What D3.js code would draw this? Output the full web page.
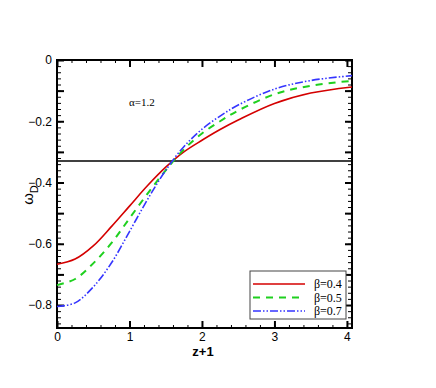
<!DOCTYPE html>
<html>
<head>
<meta charset="utf-8">
<style>
  html, body { margin: 0; padding: 0; background: #fff; }
  svg text { font-family: "Liberation Sans", Arial, sans-serif; }
  .axis .domain { display: none; }
  .axis line { stroke: #000; }
  .axis.major line { stroke-width: 2; }
  .axis text { font-size: 12px; fill: #000; }
  .serif { font-family: "Liberation Serif", "Times New Roman", serif !important; }
</style>
<script src="https://cdn.jsdelivr.net/npm/d3@7"></script>
</head>
<body>
<div id="main"></div>
<script>
  // z+1 sample points
  var zs = [0, 0.25, 0.5, 0.75, 1.0, 1.25, 1.5, 1.75, 2.0, 2.25, 2.5, 3.0, 3.5, 4.07];
  var w04 = [-0.667, -0.650, -0.607, -0.544, -0.477, -0.410, -0.350, -0.300, -0.262, -0.227, -0.196, -0.142, -0.108, -0.088];
  var w05 = [-0.735, -0.715, -0.664, -0.598, -0.517, -0.436, -0.360, -0.292, -0.240, -0.200, -0.165, -0.112, -0.084, -0.068];
  var w07 = [-0.805, -0.793, -0.741, -0.663, -0.560, -0.455, -0.360, -0.283, -0.226, -0.183, -0.147, -0.095, -0.067, -0.051];
  var hLine = -0.33;
  var seriesNames = ["\u03b2=0.4", "\u03b2=0.5", "\u03b2=0.7"];
  var xTicks = [0, 1, 2, 3, 4];
  var yTicks = [0, -0.2, -0.4, -0.6, -0.8];

  var width = 436, height = 388;
  var mLeft = 57, mRight = 352, mTop = 60, mBottom = 328;

  var svg = d3.select("#main").append("svg")
      .attr("width", width).attr("height", height);

  var x = d3.scaleLinear().domain([0, 4.07]).range([mLeft, mRight]);
  var y = d3.scaleLinear().domain([-0.875, 0]).range([mBottom, mTop]);

  var minorX = d3.range(0, 4.07, 0.2);
  var minorY = d3.range(0, -0.875, -0.02);
  var majorY = d3.range(0, -0.875, -0.1);

  function addAxis(axis, tx, ty, cls) {
    return svg.append("g").attr("class", "axis " + (cls || ""))
        .attr("transform", "translate(" + tx + "," + ty + ")")
        .call(axis);
  }

  // minor ticks
  addAxis(d3.axisBottom(x).tickValues(minorX).tickSize(-3).tickFormat(""), 0, mBottom);
  addAxis(d3.axisTop(x).tickValues(minorX).tickSize(-3).tickFormat(""), 0, mTop);
  addAxis(d3.axisLeft(y).tickValues(minorY).tickSize(-4).tickFormat(""), mLeft, 0);
  addAxis(d3.axisRight(y).tickValues(minorY).tickSize(-4).tickFormat(""), mRight, 0);

  // major ticks
  addAxis(d3.axisBottom(x).tickValues(xTicks).tickSize(-7).tickPadding(4).tickFormat(d3.format("d")), 0, mBottom, "major");
  addAxis(d3.axisTop(x).tickValues(xTicks).tickSize(-7).tickFormat(""), 0, mTop, "major");
  addAxis(d3.axisLeft(y).tickValues(majorY).tickSize(-7).tickPadding(5)
      .tickFormat(function(d) {
        var r = Math.round(d * 10) / 10;
        var show = yTicks.some(function(t) { return Math.abs(t - r) < 1e-9; });
        if (!show) return "";
        return r === 0 ? "0" : d3.format(".1f")(r);
      }), mLeft, 0, "major");
  addAxis(d3.axisRight(y).tickValues(majorY).tickSize(-7).tickFormat(""), mRight, 0, "major");

  // frame
  svg.append("rect")
      .attr("x", mLeft).attr("y", mTop)
      .attr("width", mRight - mLeft).attr("height", mBottom - mTop)
      .attr("fill", "none").attr("stroke", "#000").attr("stroke-width", 2);

  // horizontal reference line
  svg.append("line")
      .attr("x1", x(0)).attr("x2", x(4.07))
      .attr("y1", y(hLine)).attr("y2", y(hLine))
      .attr("stroke", "#000").attr("stroke-width", 1.5);

  var styles = [
    { color: "#d40000", dash: null, w: 1.6 },
    { color: "#1fd01f", dash: "7,6", w: 2 },
    { color: "#3535ff", dash: "8,2,1.5,2,1.5,2", w: 1.6 }
  ];
  var data = [w04, w05, w07];

  var line = d3.line()
      .x(function(d, i) { return x(zs[i]); })
      .y(function(d) { return y(d); })
      .curve(d3.curveCatmullRom);

  data.forEach(function(s, k) {
    svg.append("path")
        .attr("d", line(s))
        .attr("fill", "none")
        .attr("stroke", styles[k].color)
        .attr("stroke-width", styles[k].w)
        .attr("stroke-dasharray", styles[k].dash);
  });

  // legend
  var lg = svg.append("g");
  lg.append("rect")
      .attr("x", 250).attr("y", 271).attr("width", 96).attr("height", 48)
      .attr("fill", "#fff").attr("stroke", "#444").attr("stroke-width", 1);
  seriesNames.forEach(function(name, k) {
    var yy = 284 + k * 13.5;
    lg.append("line")
        .attr("x1", 253).attr("x2", 305).attr("y1", yy).attr("y2", yy)
        .attr("stroke", styles[k].color)
        .attr("stroke-width", styles[k].w)
        .attr("stroke-dasharray", styles[k].dash);
    lg.append("text")
        .attr("class", "serif")
        .attr("x", 314).attr("y", yy + 4)
        .attr("font-size", 12)
        .text(name);
  });

  // annotation
  svg.append("text")
      .attr("class", "serif")
      .attr("x", 129).attr("y", 106)
      .attr("font-size", 11)
      .text("\u03b1=1.2");

  // axis titles
  svg.append("text")
      .attr("x", 203).attr("y", 356)
      .attr("text-anchor", "middle")
      .attr("font-size", 13).attr("font-weight", "bold")
      .text("z+1");

  var yl = svg.append("text")
      .attr("transform", "translate(33,195) rotate(-90)")
      .attr("text-anchor", "middle")
      .attr("font-size", 15);
  yl.append("tspan").text("\u03c9");
  yl.append("tspan").attr("font-size", 11).attr("dy", 5).text("D");
</script>
</body>
</html>
